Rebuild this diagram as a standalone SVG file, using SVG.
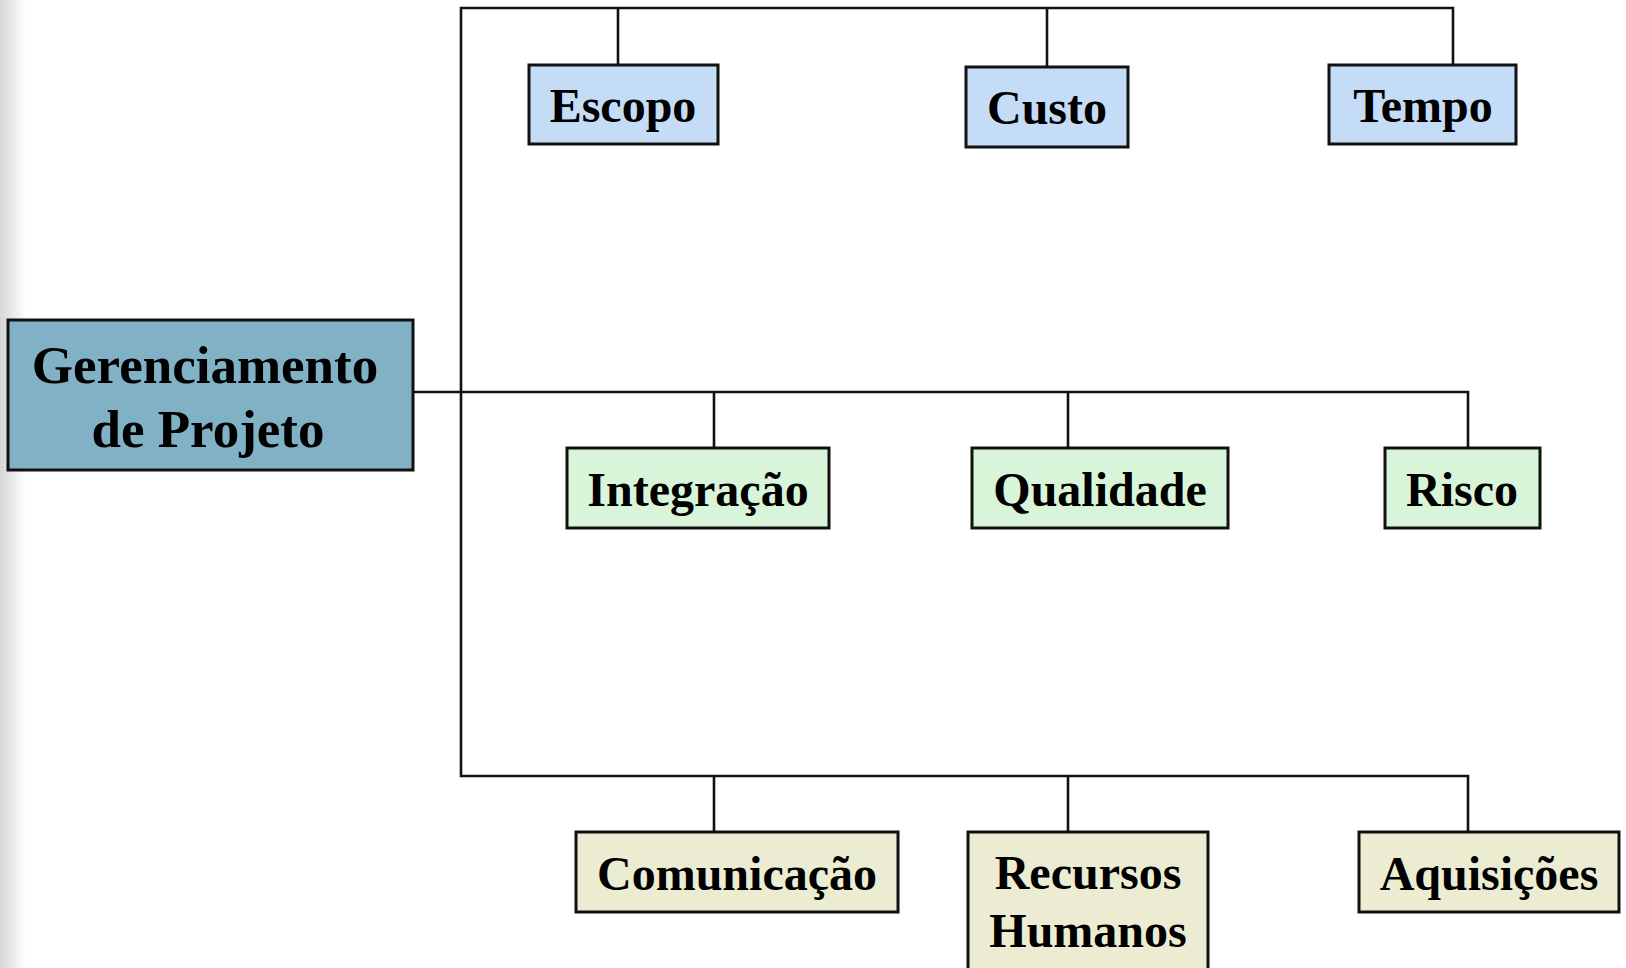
<svg xmlns="http://www.w3.org/2000/svg" width="1626" height="968" viewBox="0 0 1626 968">
<style>
.box{stroke:#111;stroke-width:3}
.blue{fill:#c4dcf6}
.green{fill:#d9f5d9}
.beige{fill:#ececd2}
.main{fill:#80b1c4}
.conn{fill:none;stroke:#111;stroke-width:2.6}
text{font-family:"Liberation Serif","Times New Roman",serif;font-weight:bold;font-size:48px;fill:#000;text-anchor:middle}
.big{font-size:53px}
</style>
<defs>
<linearGradient id="edge" x1="0" y1="0" x2="1" y2="0">
<stop offset="0" stop-color="#d6d6d6"/>
<stop offset="1" stop-color="#ffffff"/>
</linearGradient>
</defs>
<rect width="1626" height="968" fill="#fff"/>
<rect x="0" y="0" width="26" height="968" fill="url(#edge)"/>
<g id="connectors">
<path class="conn" d="M1453 64 V8 H461 V776 H1468 V832"/>
<path class="conn" d="M618 8 V64"/>
<path class="conn" d="M1047 8 V66"/>
<path class="conn" d="M414 392 H1468 V448"/>
<path class="conn" d="M714 392 V448"/>
<path class="conn" d="M1068 392 V448"/>
<path class="conn" d="M714 776 V832"/>
<path class="conn" d="M1068 776 V832"/>
</g>
<g id="gerenciamento">
<rect class="box main" x="8" y="320" width="405" height="150"/>
<text class="big" x="205" y="383">Gerenciamento</text>
<text class="big" x="208" y="447">de Projeto</text>
</g>
<g id="escopo">
<rect class="box blue" x="529" y="65" width="189" height="79"/>
<text x="623" y="122">Escopo</text>
</g>
<g id="custo">
<rect class="box blue" x="966" y="67" width="162" height="80"/>
<text x="1047" y="124">Custo</text>
</g>
<g id="tempo">
<rect class="box blue" x="1329" y="65" width="187" height="79"/>
<text x="1423" y="122">Tempo</text>
</g>
<g id="integracao">
<rect class="box green" x="567" y="448" width="262" height="80"/>
<text x="698" y="506">Integração</text>
</g>
<g id="qualidade">
<rect class="box green" x="972" y="448" width="256" height="80"/>
<text x="1100" y="506">Qualidade</text>
</g>
<g id="risco">
<rect class="box green" x="1385" y="448" width="155" height="80"/>
<text x="1462" y="506">Risco</text>
</g>
<g id="comunicacao">
<rect class="box beige" x="576" y="832" width="322" height="80"/>
<text x="737" y="890">Comunicação</text>
</g>
<g id="recursos">
<rect class="box beige" x="968" y="832" width="240" height="150"/>
<text x="1088" y="889">Recursos</text>
<text x="1088" y="947">Humanos</text>
</g>
<g id="aquisicoes">
<rect class="box beige" x="1359" y="832" width="260" height="80"/>
<text x="1489" y="890">Aquisições</text>
</g>
</svg>
